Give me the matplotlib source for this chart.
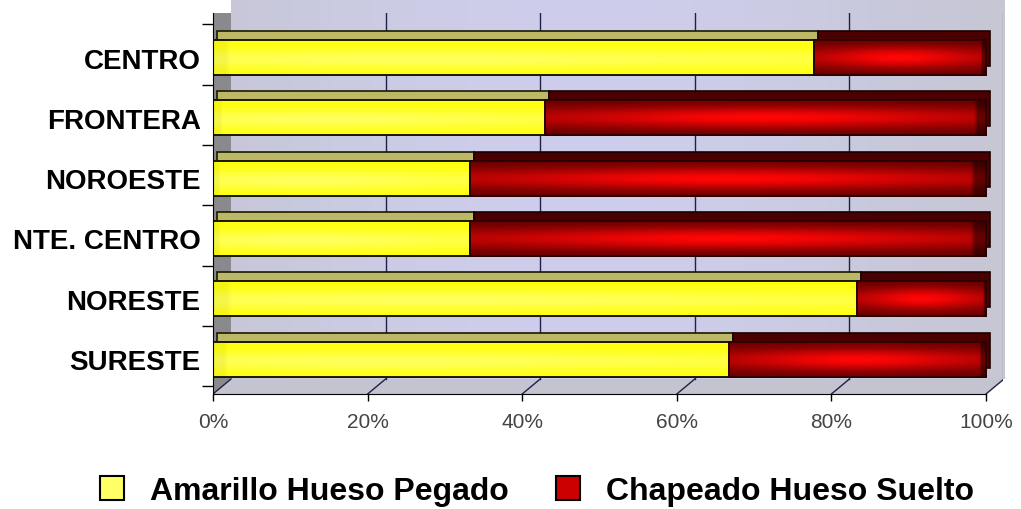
import numpy as np
import matplotlib
matplotlib.use("Agg")
import matplotlib.pyplot as plt
from matplotlib.patches import Rectangle, Polygon, Patch
from matplotlib.transforms import offset_copy

# ---------------- data ----------------
categories = ["SURESTE", "NORESTE", "NTE. CENTRO", "NOROESTE", "FRONTERA", "CENTRO"]
amarillo = [66.7, 83.3, 33.3, 33.3, 42.9, 77.8]   # % Amarillo Hueso Pegado
chapeado = [33.3, 16.7, 66.7, 66.7, 57.1, 22.2]   # % Chapeado Hueso Suelto
series_names = ["Amarillo Hueso Pegado", "Chapeado Hueso Suelto"]
xticks = [0, 20, 40, 60, 80, 100]
xtick_labels = ["0%", "20%", "40%", "60%", "80%", "100%"]

bold_font = "Liberation Sans"
thin_font = "Liberation Sans"

W, H = 1021, 510
fig = plt.figure(figsize=(W / 100, H / 100), dpi=100)
fig.patch.set_facecolor("white")

# axes spans pixel x 213..1003, y 14..395 (top-origin)
ax = fig.add_axes([213 / W, (H - 395) / H, (1003 - 213) / W, (395 - 14) / H])
x0, x1 = 0, (1003 - 213) / 7.73
y0, y1 = -0.58, 5.74
ax.set_facecolor("white")

front = ax.transData
back = offset_copy(ax.transData, fig=fig, x=18, y=15, units="dots")
bar_back = offset_copy(ax.transData, fig=fig, x=4, y=9, units="dots")

ax.set_xlim(x0, x1)
ax.set_ylim(y0, y1)

# ---- back wall with gradient ----
wall = Rectangle((0, y0), 100, y1 - y0 + 1, transform=back, facecolor="#c8c8de",
                 edgecolor="none", zorder=0)
ax.add_patch(wall)
gx = np.linspace(0, 1, 200)
wall_rgb = np.zeros((2, 200, 3))
prof = np.exp(-((gx - 0.45) / 0.45) ** 2)
c_edge = np.array([196, 196, 206]) / 255
c_mid = np.array([206, 206, 236]) / 255
for k in range(3):
    wall_rgb[:, :, k] = c_edge[k] + (c_mid[k] - c_edge[k]) * prof
im = ax.imshow(wall_rgb, extent=(0, 100, y0, y1 + 1), transform=back, aspect="auto",
               zorder=0.1, interpolation="bilinear")
im.set_clip_path(wall)

def disp(tr, x, y):
    return tr.transform((x, y))

fig.canvas.draw()
p_fb0 = disp(front, 0, y0)
p_bb0 = disp(back, 0, y0)
p_fb1 = disp(front, 100, y0)
p_bb1 = disp(back, 100, y0)
p_ft0 = disp(front, 0, y1 + 1)
p_bt0 = disp(back, 0, y1 + 1)

# left wall
lw_poly = Polygon([p_fb0, p_bb0, p_bt0, p_ft0], closed=True, transform=None,
                  facecolor="#8a8a8e", edgecolor="none", zorder=0.2)
lw_poly.set_clip_path(ax.patch)
ax.add_patch(lw_poly)
# floor
fl_poly = Polygon([p_fb0, p_fb1, p_bb1, p_bb0], closed=True, transform=None,
                  facecolor="#c4c4d0", edgecolor="none", zorder=0.2)
ax.add_patch(fl_poly)
# right grey edge of the wall
ax.plot([100, 100], [y0, y1 + 1], transform=back, color="#9a9a9a", lw=2.5, zorder=0.3)

# gridlines on back wall and floor
for xv in xticks[1:]:
    ax.plot([xv, xv], [y0, y1 + 1], transform=back, color="#202048", lw=1.0, zorder=0.4)
for xv in xticks:
    a = disp(front, xv, y0)
    b = disp(back, xv, y0)
    ax.plot([a[0], b[0]], [a[1], b[1]], transform=None, color="#202048", lw=1.0, zorder=0.4)

# ---------------- bars ----------------
h = 0.58
ypos = np.arange(len(categories))

def gradient_fill(patch, left, width, yc, kind):
    ny, nx = 40, 120
    yy = np.linspace(0, 1, ny)[:, None]
    xx = np.linspace(0, 1, nx)[None, :]
    if kind == "y":
        f = 0.55 * np.exp(-((yy - 0.55) / 0.28) ** 2) * (0.6 + 0.4 * np.exp(-((xx - 0.35) / 0.5) ** 2))
        base = np.array([1.0, 1.0, 0.05])
        hi = np.array([1.0, 1.0, 0.62])
        img = base + (hi - base) * f[..., None]
        img = np.broadcast_to(img, (ny, nx, 3)).copy()
        img[:, :3] *= 0.96
    else:
        v = np.exp(-((yy - 0.5) / 0.33) ** 2)
        hx = 0.45 + 0.55 * np.exp(-((xx - 0.5) / 0.4) ** 2)
        f = v * hx
        dark = np.array([0.38, 0.0, 0.0])
        bright = np.array([1.0, 0.02, 0.02])
        img = dark + (bright - dark) * f[..., None]
        img[:, -3:] *= 0.55
    imr = ax.imshow(img, extent=(left, left + width, yc - h / 2, yc + h / 2),
                    aspect="auto", zorder=3.1, interpolation="bilinear")
    imr.set_clip_path(patch)

for i, (a_v, c_v) in enumerate(zip(amarillo, chapeado)):
    yc = ypos[i]
    ax.barh(yc, a_v, left=0, height=h, transform=bar_back, color="#bdb866",
            edgecolor="#1a1a00", lw=1.2, zorder=2)
    ax.barh(yc, c_v, left=a_v, height=h, transform=bar_back, color="#4a0000",
            edgecolor="#1a0000", lw=1.2, zorder=2)
    by = ax.barh(yc, a_v, left=0, height=h, color="#ffff20", edgecolor="#1a1a00",
                 lw=1.4, zorder=3)[0]
    br = ax.barh(yc, c_v, left=a_v, height=h, color="#cc0000", edgecolor="#2a0000",
                 lw=1.4, zorder=3)[0]
    gradient_fill(by, 0, a_v, yc, "y")
    gradient_fill(br, a_v, c_v, yc, "r")
    ax.add_patch(Rectangle((0, yc - h / 2), a_v, h, fill=False, edgecolor="#1a1a00", lw=1.4, zorder=3.2))
    ax.add_patch(Rectangle((a_v, yc - h / 2), c_v, h, fill=False, edgecolor="#2a0000", lw=1.2, zorder=3.2))

ax.set_xlim(x0, x1)
ax.set_ylim(y0, y1)

# ---------------- axes styling ----------------
for s in ["top", "right"]:
    ax.spines[s].set_visible(False)
ax.spines["bottom"].set_bounds(0, 100)
ax.spines["bottom"].set_color("black")
ax.spines["left"].set_color("black")
ax.spines["bottom"].set_zorder(5)
ax.spines["left"].set_zorder(5)

ax.set_xticks(xticks)
ax.set_xticklabels(xtick_labels, fontsize=15, color="#444444", family=thin_font)
ax.tick_params(axis="x", direction="out", length=5, width=1, pad=8)

ax.set_yticks(ypos)
ax.set_yticklabels(categories, fontsize=20, fontweight="bold", family=bold_font)
ax.tick_params(axis="y", length=0, pad=9)
ax.set_yticks(np.arange(-0.45, len(categories)), minor=True)
ax.tick_params(axis="y", which="minor", direction="out", length=8, width=1)

# ---------------- legend ----------------
handles = [Patch(facecolor="#ffff66", edgecolor="black", lw=1.5),
           Patch(facecolor="#cc0000", edgecolor="black", lw=1.5)]
fig.legend(handles, series_names, loc="center left", bbox_to_anchor=(100 / W, 18 / H),
           ncol=2, frameon=False, prop={"family": bold_font, "weight": "bold", "size": 23},
           handlelength=0.75, handleheight=0.75, handletextpad=0.8, columnspacing=1.5,
           borderpad=0, borderaxespad=0)

fig.savefig("out.png", dpi=100)
